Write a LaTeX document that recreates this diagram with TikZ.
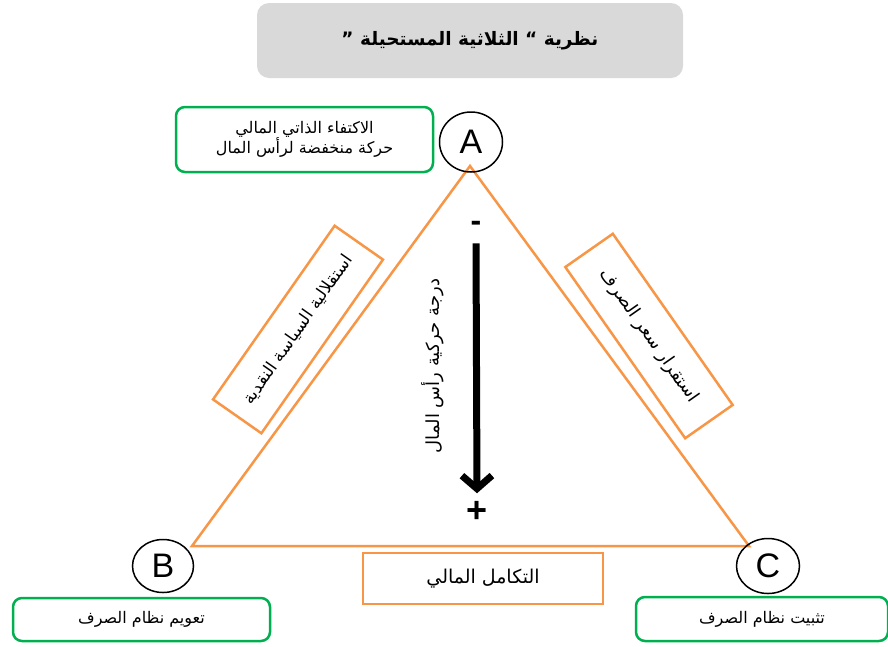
\documentclass[tikz,border=0pt]{standalone}
\usepackage{fontspec}
\setmainfont{Liberation Sans}
\newfontfamily\arabicfont[Script=Arabic]{DejaVu Sans}
\TeXXeTstate=1
\usetikzlibrary{arrows.meta,shapes.geometric}
\definecolor{orng}{HTML}{F79646}
\definecolor{grn}{HTML}{00B050}
\definecolor{gry}{HTML}{D9D9D9}
\begin{document}
\begin{tikzpicture}[x=1pt,y=-1pt,
 greenbox/.style={draw=grn,line width=2.5pt,rounded corners=9pt,inner sep=0pt,font=\arabicfont\fontsize{16}{20}\selectfont,align=center},
 orbox/.style={draw=orng,line width=2.5pt,inner sep=0pt,font=\arabicfont\fontsize{17}{20}\selectfont},
 letter/.style={draw,ellipse,line width=1.5pt,inner sep=0pt,font=\fontsize{34}{34}\selectfont},
 tri/.style={draw=orng,line width=2.5pt}]
\useasboundingbox (0,0) rectangle (888,646);
\node[fill=gry,rounded corners=12pt,minimum width=426pt,minimum height=75pt,font=\arabicfont\bfseries\fontsize{18.5}{22}\selectfont] (title) at (470,40.5) {\beginR نظرية “ الثلاثية المستحيلة ”\endR};
% triangle
\coordinate (tA) at (470,166);
\coordinate (tB) at (192,546);
\coordinate (tC) at (749,546);
\draw[tri] (tA) -- (tB) -- (tC) -- cycle;
% letters
\node[letter,minimum width=63pt,minimum height=60pt] (A) at (471,142) {A};
\node[letter,minimum width=61pt,minimum height=53pt] (B) at (163,566) {B};
\node[letter,minimum width=63pt,minimum height=55pt] (C) at (768,566) {C};
% green boxes
\node[greenbox,minimum width=257pt,minimum height=65pt] (gA) at (304.5,139.5) {\beginR الاكتفاء الذاتي المالي\endR\\ \beginR حركة منخفضة لرأس المال\endR};
\node[greenbox,minimum width=257pt,minimum height=43pt] (gB) at (141.5,619.5) {\beginR تعويم نظام الصرف\endR};
\node[greenbox,minimum width=252pt,minimum height=44pt] (gC) at (762,619) {\beginR تثبيت نظام الصرف\endR};
% orange boxes
\node[orbox,font=\arabicfont\fontsize{19}{22}\selectfont,minimum width=240pt,minimum height=51pt] (fi) at (483,578.5) {\beginR التكامل المالي\endR};
\node[orbox,rotate=55,minimum width=212pt,minimum height=59pt] (lb) at (298,329.5) {\beginR استقلالية السياسة النقدية\endR};
\node[orbox,font=\arabicfont\fontsize{18}{22}\selectfont,rotate=-55,minimum width=209pt,minimum height=58pt] (rb) at (649,336) {\beginR استقرار سعر الصرف\endR};
% arrow
\node[font=\bfseries\fontsize{32}{32}\selectfont,inner sep=0pt] (minus) at (476,226) {-};
\node[font=\bfseries\fontsize{36}{36}\selectfont,inner sep=0pt] (plus) at (477,512) {+};
\draw[line width=7pt,-{Straight Barb[length=13pt,width=30pt]}] ([yshift=-12pt]minus.south) -- ([yshift=8pt]plus.north);
\node[rotate=90,font=\arabicfont\fontsize{18}{22}\selectfont] (vt) at (433,366) {\beginR درجة حركية رأس المال\endR};
\end{tikzpicture}
\end{document}
